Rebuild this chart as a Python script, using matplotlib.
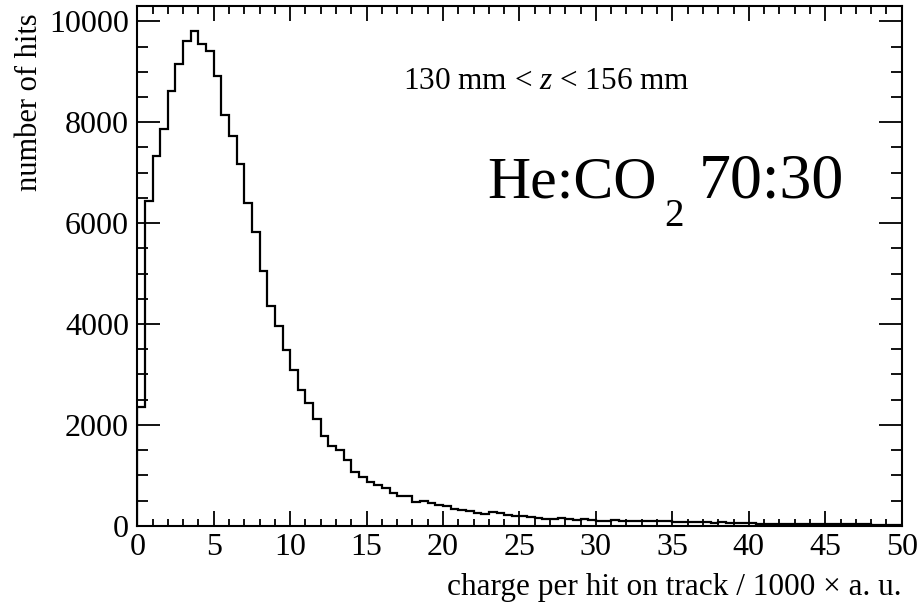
import numpy as np
import matplotlib
matplotlib.use("Agg")
import matplotlib.pyplot as plt
from matplotlib.ticker import MultipleLocator

plt.rcParams['font.family'] = ['Liberation Serif', 'DejaVu Serif']
plt.rcParams['mathtext.fontset'] = 'custom'
plt.rcParams['mathtext.rm'] = 'Liberation Serif'
plt.rcParams['mathtext.it'] = 'Liberation Serif:italic'

# charge histogram, 0.5 wide bins from 0 to 50
bin_width = 0.5
counts = [
    2344, 6436, 7330, 7861, 8610, 9152, 9603, 9813, 9549, 9416,
    8919, 8139, 7728, 7165, 6390, 5828, 5046, 4364, 3960, 3476,
    3085, 2682, 2425, 2125, 1775, 1586, 1510, 1305, 1070, 964,
    868, 808, 740, 650, 590, 590, 468, 497, 445, 404,
    397, 326, 318, 298, 258, 232, 272, 246, 207, 199,
    187, 167, 159, 139, 127, 147, 133, 119, 127, 119,
    100, 95, 110, 100, 92, 90, 88, 92, 95, 90,
    82, 70, 72, 68, 65, 62, 64, 60, 56, 55,
    45, 42, 40, 40, 44, 40, 38, 40, 35, 33,
    30, 32, 28, 30, 26, 25, 24, 22, 20, 18,
]
edges = np.arange(len(counts) + 1) * bin_width

fig = plt.figure(figsize=(9.2, 6.07), dpi=100)
ax = fig.add_axes([0.1492, 0.1339, 0.8309, 0.8562])

ax.stairs(counts, edges, color='black', linewidth=1.6, baseline=0)

ax.set_xlim(0, 50)
ax.set_ylim(0, 1.05 * max(counts))

ax.xaxis.set_major_locator(MultipleLocator(5))
ax.xaxis.set_minor_locator(MultipleLocator(1))
ax.yaxis.set_major_locator(MultipleLocator(2000))
ax.yaxis.set_minor_locator(MultipleLocator(500))

for s in ax.spines.values():
    s.set_linewidth(1.5)

ax.tick_params(axis='both', which='both', direction='in', top=True, right=True,
               width=1.3, labelsize=23)
ax.tick_params(axis='x', which='major', length=10.8, pad=5)
ax.tick_params(axis='x', which='minor', length=5.4)
ax.tick_params(axis='y', which='major', length=16.6, pad=6)
ax.tick_params(axis='y', which='minor', length=8)

ax.set_xlabel('charge per hit on track / 1000 × a. u.', fontsize=22.5, loc='right')
ax.xaxis.set_label_coords(1.0, -0.091)
ax.set_ylabel('number of hits', fontsize=22, loc='top')
ax.yaxis.set_label_coords(-0.1215, 0.9865)

ax.text(0.3476, 0.8538, '130 mm < $z$ < 156 mm', transform=ax.transAxes,
        fontsize=22.5, ha='left', va='center')

ax.text(0.4575, 0.6325, 'He:CO', transform=ax.transAxes, fontsize=43,
        ha='left', va='baseline')
ax.text(0.6890, 0.5770, '2', transform=ax.transAxes, fontsize=28,
        ha='left', va='baseline')
ax.text(0.7340, 0.6325, '70:30', transform=ax.transAxes, fontsize=46,
        ha='left', va='baseline')

fig.savefig('out.png', dpi=100)
